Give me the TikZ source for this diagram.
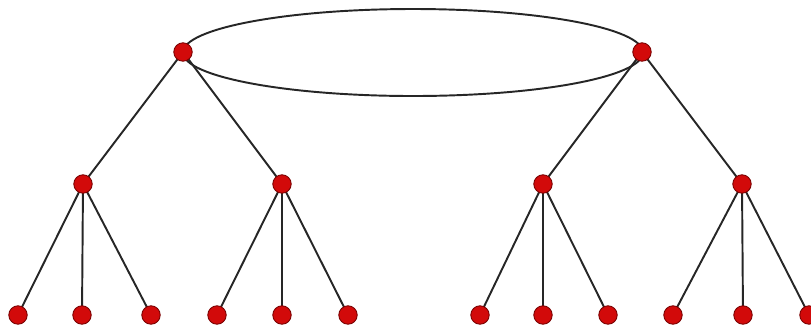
\documentclass[tikz,border=0pt]{standalone}
\usetikzlibrary{positioning, backgrounds}
\definecolor{vertexred}{RGB}{210,10,10}
\definecolor{vertexrim}{RGB}{120,0,0}
\tikzset{
  % vertices
  vertex/.style={
    circle, draw=vertexrim, fill=vertexred, line width=0.5pt,
    inner sep=0pt, minimum size=10.5pt
  },
  % tree edges
  edge/.style={
    -, line width=1.1pt, draw=black!85
  },
  % the ring joining the two roots
  loopring/.style={
    line width=1.1pt, draw=black!85
  },
}

\begin{document}
\begin{tikzpicture}[x=0.02cm, y=-0.02cm]

  \useasboundingbox (0,0) rectangle (811,326);

  %% -- Roots --
  \node[vertex] (rootL) at (183,52) {};
  \node[vertex] (rootR) at (642,52) {};

  %% -- Middle level --
  \node[vertex] (midA) at (83,184) {};
  \node[vertex] (midB) at (282,184) {};
  \node[vertex] (midC) at (543,184) {};
  \node[vertex] (midD) at (742,184) {};

  %% -- Leaves --
  \node[vertex] (leafA1) at (18,315) {};
  \node[vertex] (leafA2) at (82,315) {};
  \node[vertex] (leafA3) at (151,315) {};
  \node[vertex] (leafB1) at (217,315) {};
  \node[vertex] (leafB2) at (282,315) {};
  \node[vertex] (leafB3) at (348,315) {};
  \node[vertex] (leafC1) at (480,315) {};
  \node[vertex] (leafC2) at (543,315) {};
  \node[vertex] (leafC3) at (608,315) {};
  \node[vertex] (leafD1) at (673,315) {};
  \node[vertex] (leafD2) at (743,315) {};
  \node[vertex] (leafD3) at (809,315) {};

  \begin{scope}[on background layer]
    %% -- Ring between the roots --
    \draw[loopring] (413,52.5) ellipse (230 and 43.5);

    %% -- Edges --
    \draw[edge] (rootL.center) -- (midA.center);
    \draw[edge] (rootL.center) -- (midB.center);
    \draw[edge] (rootR.center) -- (midC.center);
    \draw[edge] (rootR.center) -- (midD.center);

    \draw[edge] (midA.center) -- (leafA1.center);
    \draw[edge] (midA.center) -- (leafA2.center);
    \draw[edge] (midA.center) -- (leafA3.center);
    \draw[edge] (midB.center) -- (leafB1.center);
    \draw[edge] (midB.center) -- (leafB2.center);
    \draw[edge] (midB.center) -- (leafB3.center);
    \draw[edge] (midC.center) -- (leafC1.center);
    \draw[edge] (midC.center) -- (leafC2.center);
    \draw[edge] (midC.center) -- (leafC3.center);
    \draw[edge] (midD.center) -- (leafD1.center);
    \draw[edge] (midD.center) -- (leafD2.center);
    \draw[edge] (midD.center) -- (leafD3.center);
  \end{scope}

\end{tikzpicture}
\end{document}
